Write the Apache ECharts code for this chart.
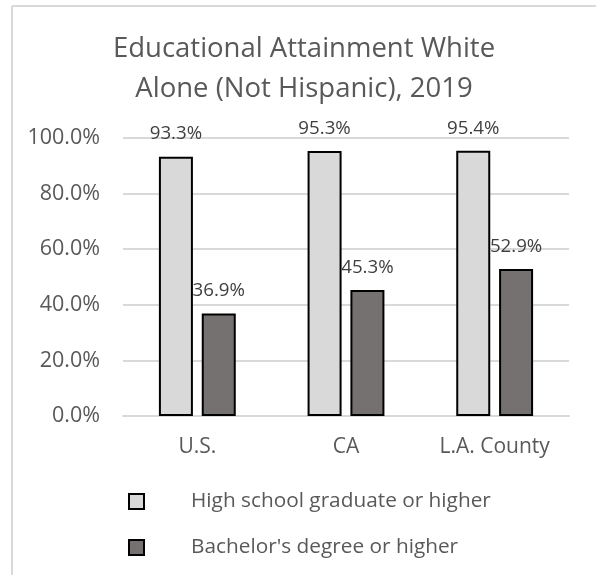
<!DOCTYPE html>
<html>
<head>
<meta charset="utf-8">
<script src="https://cdn.jsdelivr.net/npm/echarts@6/dist/echarts.min.js"></script>
<style>
  html, body { margin: 0; padding: 0; background: #ffffff; }
  #chart { width: 596px; height: 575px; }
</style>
</head>
<body>
<div id="chart"></div>
<script>
// Educational attainment, White alone (not Hispanic), 2019
const categories = ['U.S.', 'CA', 'L.A. County'];
const seriesNames = ['High school graduate or higher', "Bachelor's degree or higher"];
const highSchool = [93.3, 95.3, 95.4];
const bachelor = [36.9, 45.3, 52.9];
const yTicks = [0, 20, 40, 60, 80, 100];

const FONT = '"Open Sans", "Noto Sans", sans-serif';
const TEXT = '#595959';

const chart = echarts.init(document.getElementById('chart'), null, { renderer: 'canvas' });

const pct = v => v.toFixed(1) + '%';

chart.setOption({
  backgroundColor: '#ffffff',
  animation: false,
  title: {
    text: 'Educational Attainment White\nAlone (Not Hispanic), 2019',
    left: 299,
    top: 24,
    textAlign: 'center',
    textStyle: {
      fontFamily: FONT,
      fontSize: 27.5,
      fontWeight: 'normal',
      color: TEXT,
      lineHeight: 40
    }
  },
  graphic: [
    // frame edges
    { type: 'line', shape: { x1: 12, y1: 6, x2: 596, y2: 6 }, style: { stroke: '#d9d9d9', lineWidth: 2 } },
    { type: 'line', shape: { x1: 12, y1: 6, x2: 12, y2: 575 }, style: { stroke: '#d9d9d9', lineWidth: 2 } }
  ],
  grid: { left: 123, right: 27, top: 138, bottom: 159 },
  legend: {
    orient: 'vertical',
    left: 128,
    top: 491,
    padding: 0,
    itemWidth: 15,
    itemHeight: 15,
    itemGap: 25,
    icon: 'rect',
    data: seriesNames,
    textStyle: {
      fontFamily: FONT,
      fontSize: 20.8,
      lineHeight: 15,
      color: TEXT,
      padding: [0, 0, 0, 42]
    }
  },
  xAxis: {
    type: 'category',
    data: categories,
    axisLine: { lineStyle: { color: '#d9d9d9', width: 2 } },
    axisTick: { show: false },
    axisLabel: {
      fontFamily: FONT,
      fontSize: 21,
      color: TEXT,
      margin: 21
    }
  },
  yAxis: {
    type: 'value',
    min: yTicks[0],
    max: yTicks[yTicks.length - 1],
    interval: yTicks[1] - yTicks[0],
    axisLine: { show: false },
    axisTick: { show: false },
    splitLine: { lineStyle: { color: '#d9d9d9', width: 2 } },
    axisLabel: {
      fontFamily: FONT,
      fontSize: 21.5,
      color: TEXT,
      margin: 23,
      formatter: v => pct(v)
    }
  },
  series: [
    {
      name: seriesNames[0],
      type: 'bar',
      data: highSchool,
      barWidth: 34,
      barGap: '26%',
      itemStyle: { color: '#d9d9d9', borderColor: '#000000', borderWidth: 2 },
      label: {
        show: true,
        position: 'top',
        distance: 13,
        fontFamily: FONT,
        fontSize: 18.7,
        color: '#404040',
        formatter: p => pct(p.value)
      }
    },
    {
      name: seriesNames[1],
      type: 'bar',
      data: bachelor,
      barWidth: 34,
      barGap: '26%',
      itemStyle: { color: '#767171', borderColor: '#000000', borderWidth: 2 },
      label: {
        show: true,
        position: 'top',
        distance: 13,
        fontFamily: FONT,
        fontSize: 18.7,
        color: '#404040',
        formatter: p => pct(p.value)
      }
    }
  ]
});
</script>
</body>
</html>
